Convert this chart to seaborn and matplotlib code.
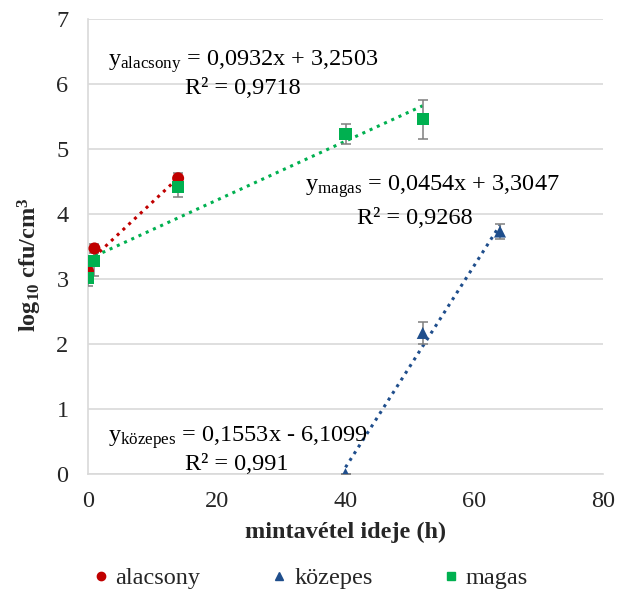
import numpy as np
import pandas as pd
import matplotlib
matplotlib.use("Agg")
import matplotlib.pyplot as plt
from matplotlib.lines import Line2D
import seaborn as sns

# Measured series (sampling time in hours, log10 cfu/cm3, standard deviation)
alacsony_x = [0, 1, 14]
alacsony_y = [3.12, 3.47, 4.55]
alacsony_err = [0.05, 0.07, 0.08]

kozepes_x = [40, 52, 64]
kozepes_y = [0.0, 2.17, 3.73]
kozepes_err = [0.0, 0.17, 0.12]

magas_x = [0, 1, 14, 40, 52]
magas_y = [3.02, 3.27, 4.41, 5.23, 5.46]
magas_err = [0.13, 0.22, 0.15, 0.15, 0.30]

# Linear trend coefficients (slope, intercept, R²)
fit_alacsony = (0.0932, 3.2503, "0,9718")
fit_kozepes = (0.1553, -6.1099, "0,991")
fit_magas = (0.0454, 3.3047, "0,9268")

series_names = ["alacsony", "közepes", "magas"]
colors = {"alacsony": "#C00000", "közepes": "#1F4E8C", "magas": "#00B050"}
markers = {"alacsony": "o", "közepes": "^", "magas": "s"}

df = pd.concat([
    pd.DataFrame({"x": alacsony_x, "y": alacsony_y, "err": alacsony_err, "csoport": "alacsony"}),
    pd.DataFrame({"x": kozepes_x, "y": kozepes_y, "err": kozepes_err, "csoport": "közepes"}),
    pd.DataFrame({"x": magas_x, "y": magas_y, "err": magas_err, "csoport": "magas"}),
], ignore_index=True)

sns.set_theme(style="white")
plt.rcParams["font.family"] = ["Liberation Serif", "DejaVu Serif"]
plt.rcParams["mathtext.fontset"] = "custom"
plt.rcParams["mathtext.rm"] = "Liberation Serif"
plt.rcParams["mathtext.it"] = "Liberation Serif:italic"
plt.rcParams["mathtext.bf"] = "Liberation Serif:bold"

FS = 17.5

fig = plt.figure(figsize=(6.17, 5.89), dpi=100)
ax = fig.add_axes([88 / 617, 1 - 474 / 589, (603 - 88) / 617, (474 - 19) / 589])

# trend lines
fits = {"alacsony": fit_alacsony, "közepes": fit_kozepes, "magas": fit_magas}
for name in series_names:
    sub = df[df.csoport == name]
    slope, icpt, _ = fits[name]
    xs = np.array([sub.x.min(), sub.x.max()])
    trend = pd.DataFrame({"x": xs, "y": slope * xs + icpt})
    sns.lineplot(data=trend, x="x", y="y", ax=ax, color=colors[name],
                 linestyle=(0, (1, 1.6)), linewidth=2.2, zorder=2)

# error bars
for name in series_names:
    sub = df[df.csoport == name]
    ax.errorbar(sub.x, sub.y, yerr=sub.err, fmt="none", ecolor="#7F7F7F",
                elinewidth=1.1, capsize=3.5, capthick=1.1, zorder=3)

sns.scatterplot(data=df, x="x", y="y", hue="csoport", style="csoport",
                palette=colors, markers=markers, s=75, edgecolor="none",
                legend=False, ax=ax, zorder=4)

ax.set_xlim(0, 80)
ax.set_ylim(0, 7)
ax.set_xticks([0, 20, 40, 60, 80])
ax.set_yticks(range(0, 8))
ax.tick_params(axis="x", labelsize=FS, length=0, pad=12)
ax.tick_params(axis="y", labelsize=FS, length=0, pad=14)
ax.yaxis.grid(True, color="#D9D9D9", linewidth=1.2)
ax.xaxis.grid(False)
for s in ["top", "right"]:
    ax.spines[s].set_visible(False)
for s in ["left", "bottom"]:
    ax.spines[s].set_color("#D9D9D9")
    ax.spines[s].set_linewidth(1.2)

ax.set_xlabel("mintavétel ideje (h)", fontsize=FS, fontweight="bold")
ax.set_ylabel(r"$\mathbf{log_{10}\ cfu/cm^{3}}$", fontsize=FS)
ax.xaxis.set_label_coords(0.5, -(532 - 474) / 455, transform=ax.transAxes)
ax.yaxis.set_label_coords(-(88 - 30) / 515, (474 - 265) / 455, transform=ax.transAxes)
ax.xaxis.label.set_va("center")
ax.yaxis.label.set_va("center")

# regression equations
eq_style = dict(fontsize=FS, color="black", zorder=5)
ax.text(3.1, 6.28, r"y$_{\mathrm{alacsony}}$ = 0,0932x + 3,2503", **eq_style)
ax.text(15, 5.84, "R² = " + fit_alacsony[2], **eq_style)
ax.text(33.7, 4.36, r"y$_{\mathrm{magas}}$ = 0,0454x + 3,3047", **eq_style)
ax.text(41.8, 3.84, "R² = " + fit_magas[2], **eq_style)
ax.text(3.1, 0.49, r"y$_{\mathrm{közepes}}$ = 0,1553x - 6,1099", **eq_style)
ax.text(15, 0.06, "R² = " + fit_kozepes[2], **eq_style)

handles = [Line2D([], [], linestyle="none", marker=markers[n], color=colors[n],
                  markersize=6, label=n) for n in series_names]
fig.legend(handles=handles, loc="center", bbox_to_anchor=(0.5, 1 - 578 / 589),
           ncol=3, frameon=False, fontsize=FS, handletextpad=0.1,
           columnspacing=2.75, handlelength=1.0)

fig.savefig("out.png", dpi=100)
